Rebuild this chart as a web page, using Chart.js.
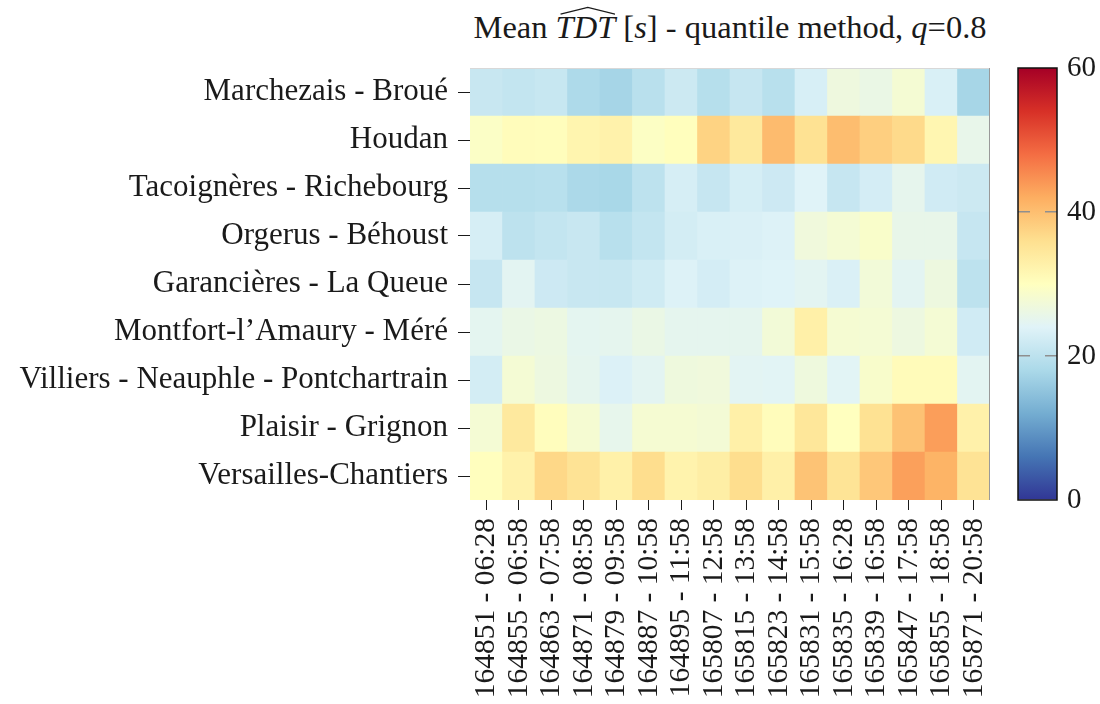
<!DOCTYPE html>
<html>
<head>
  <meta charset="utf-8">
  <title>Mean TDT - quantile method</title>
  <script src="https://cdn.jsdelivr.net/npm/chart.js"></script>
  <style>
    body {
      margin: 0;
      width: 1100px;
      height: 704px;
      position: relative;
      overflow: hidden;
      background: #fff;
      font-family: "Liberation Serif", Tinos, serif;
      color: #1a1a1a;
    }

    #title {
      position: absolute;
      left: 430px;
      width: 600px;
      top: 9px;
      text-align: center;
      font-size: 32.5px;
      white-space: nowrap;
    }

    /* wide hat over TDT */
    .hat {
      position: relative;
      display: inline-block;
    }

    .hat svg {
      position: absolute;
      left: 4px;
      top: -3px;
      width: calc(100% - 4px);
      height: 9px;
    }

    #main {
      position: absolute;
      left: 0;
      top: 0;
    }

    #scale {
      position: absolute;
      left: 1000px;
      top: 0;
    }
  </style>
</head>
<body>
  <div id="title">Mean <span class="hat"><i>TDT</i><svg viewBox="0 0 100 10" preserveAspectRatio="none"><polyline points="1,9 50,1.5 99,9" fill="none" stroke="#1a1a1a" stroke-width="1.3" vector-effect="non-scaling-stroke"/></svg></span> [<i>s</i>] - quantile method, <i>q</i>=0.8</div>
  <canvas id="main" width="1100" height="704"></canvas>
  <canvas id="scale" width="100" height="704"></canvas>

  <script>
    // rows top to bottom
    const stations = [
      'Marchezais - Broué',
      'Houdan',
      'Tacoignères - Richebourg',
      'Orgerus - Béhoust',
      'Garancières - La Queue',
      'Montfort-l\u2019Amaury - Méré',
      'Villiers - Neauphle - Pontchartrain',
      'Plaisir - Grignon',
      'Versailles-Chantiers'
    ];

    const trains = [
      '164851 - 06:28', '164855 - 06:58', '164863 - 07:58', '164871 - 08:58',
      '164879 - 09:58', '164887 - 10:58', '164895 - 11:58', '165807 - 12:58',
      '165815 - 13:58', '165823 - 14:58', '165831 - 15:58', '165835 - 16:28',
      '165839 - 16:58', '165847 - 17:58', '165855 - 18:58', '165871 - 20:58'
    ];

    // mean TDT in seconds, one array per station
    const marchezais  = [21.3, 20.7, 21.2, 18.3, 17.5, 19.6, 21.7, 19.3, 21.0, 19.5, 23.0, 26.7, 26.0, 27.9, 23.2, 17.6];
    const houdan      = [29.3, 30.5, 30.4, 32.0, 32.5, 29.5, 30.2, 37.6, 34.3, 40.4, 35.6, 40.2, 38.0, 36.7, 31.8, 25.5];
    const tacoigneres = [19.3, 19.3, 19.5, 18.1, 17.8, 20.0, 22.9, 21.0, 22.8, 21.8, 24.0, 21.0, 22.6, 25.2, 22.2, 21.7];
    const orgerus     = [22.9, 20.0, 20.7, 21.3, 19.5, 20.7, 22.5, 23.2, 23.3, 23.7, 27.0, 27.8, 28.8, 25.6, 25.6, 21.0];
    const garancieres = [21.0, 24.6, 21.8, 21.3, 21.2, 22.1, 23.7, 22.6, 23.7, 23.9, 24.6, 23.3, 27.4, 24.6, 26.6, 20.0];
    const montfort    = [24.8, 25.9, 26.3, 24.8, 25.0, 26.0, 25.0, 25.0, 25.0, 27.5, 32.9, 28.0, 27.8, 26.5, 27.8, 22.2];
    const villiers    = [22.5, 27.8, 26.5, 25.0, 23.5, 24.6, 26.8, 27.0, 24.5, 24.3, 26.8, 24.3, 28.7, 30.7, 30.7, 24.6];
    const plaisir     = [27.8, 34.2, 30.3, 28.0, 25.3, 28.0, 28.0, 27.7, 32.9, 30.5, 34.7, 30.0, 35.6, 39.6, 43.5, 32.7];
    const versailles  = [30.1, 32.5, 37.0, 35.4, 32.8, 36.2, 32.3, 33.3, 36.2, 32.9, 39.5, 35.2, 39.0, 43.3, 41.3, 35.4];

    const tdt = [marchezais, houdan, tacoigneres, orgerus, garancieres, montfort, villiers, plaisir, versailles];

    const scaleMin = 0;
    const scaleMax = 60;
    const scaleTicks = [0, 20, 40, 60];

    // RdYlBu reversed
    const palette = ['#313695', '#4575b4', '#74add1', '#abd9e9', '#e0f3f8', '#ffffbf',
                     '#fee090', '#fdae61', '#f46d43', '#d73027', '#a50026'];

    const FAMILY = '"Liberation Serif", Tinos, serif';
    const INK = '#1a1a1a';

    function hexRgb(h) {
      return [1, 3, 5].map(i => parseInt(h.substr(i, 2), 16));
    }

    function colour(v) {
      const t = Math.max(0, Math.min(1, (v - scaleMin) / (scaleMax - scaleMin))) * (palette.length - 1);
      const i = Math.min(palette.length - 2, Math.floor(t));
      const f = t - i;
      const a = hexRgb(palette[i]);
      const b = hexRgb(palette[i + 1]);
      const c = a.map((x, k) => Math.round(x + (b[k] - x) * f));
      return 'rgb(' + c.join(',') + ')';
    }

    // thin frame round the heatmap
    const heatFrame = {
      id: 'heatFrame',
      afterDatasetsDraw(chart) {
        const { ctx, chartArea: a } = chart;
        ctx.save();
        ctx.lineWidth = 1;
        ctx.strokeStyle = '#d8d8d8';
        ctx.beginPath();
        ctx.moveTo(a.left, a.top + 0.5);
        ctx.lineTo(a.right, a.top + 0.5);
        ctx.stroke();
        ctx.strokeStyle = '#999';
        ctx.beginPath();
        ctx.moveTo(a.right - 0.5, a.top);
        ctx.lineTo(a.right - 0.5, a.bottom);
        ctx.stroke();
        ctx.restore();
      }
    };

    const blackFrame = {
      id: 'blackFrame',
      afterDraw(chart) {
        const { ctx, chartArea: a } = chart;
        ctx.save();
        ctx.lineWidth = 1.5;
        ctx.strokeStyle = '#111';
        ctx.strokeRect(a.left, a.top, a.width, a.height);
        ctx.restore();
      }
    };

    // each station is one stacked layer, bottom row first
    const datasets = stations.map((name, r) => ({
      label: name,
      data: trains.map(() => 1),
      values: tdt[r],
      backgroundColor: tdt[r].map(colour),
      borderWidth: 0,
      barPercentage: 1,
      categoryPercentage: 1
    })).reverse();

    new Chart(document.getElementById('main'), {
      type: 'bar',
      data: { labels: trains, datasets: datasets },
      options: {
        responsive: false,
        animation: false,
        layout: { padding: { top: 68, right: 110, left: 0, bottom: 0 } },
        plugins: {
          legend: { display: false },
          tooltip: {
            callbacks: {
              title: items => items[0].dataset.label + ' / ' + items[0].label,
              label: item => 'TDT: ' + item.dataset.values[item.dataIndex] + ' s'
            }
          }
        },
        scales: {
          x: {
            stacked: true,
            border: { display: false },
            grid: { offset: false, drawOnChartArea: false, tickLength: 10, color: INK },
            ticks: { autoSkip: false, minRotation: 90, maxRotation: 90, padding: 8, color: INK, font: { family: FAMILY, size: 29.5 } },
            afterFit(s) { s.height = 204; }
          },
          y: {
            stacked: true,
            min: 0,
            max: stations.length,
            border: { display: false },
            grid: { drawOnChartArea: false, tickLength: 12, color: INK },
            afterBuildTicks(s) {
              s.ticks = stations.map((n, i) => ({ value: i + 0.5 }));
            },
            ticks: {
              padding: 10,
              color: INK,
              font: { family: FAMILY, size: 31 },
              callback: v => stations[stations.length - 1 - Math.floor(v)]
            },
            afterFit(s) { s.width = 470; }
          }
        }
      },
      plugins: [heatFrame]
    });

    // colour bar
    new Chart(document.getElementById('scale'), {
      type: 'bar',
      data: {
        labels: [''],
        datasets: [{
          data: [[scaleMin, scaleMax]],
          backgroundColor(c) {
            const a = c.chart.chartArea;
            if (!a) return null;
            const g = c.chart.ctx.createLinearGradient(0, a.bottom, 0, a.top);
            palette.forEach((p, i) => g.addColorStop(i / (palette.length - 1), p));
            return g;
          },
          borderWidth: 0,
          barPercentage: 1,
          categoryPercentage: 1
        }]
      },
      options: {
        responsive: false,
        animation: false,
        layout: { padding: { top: 68, left: 18, right: 0, bottom: 204 } },
        plugins: { legend: { display: false }, tooltip: { enabled: false } },
        scales: {
          x: { display: false },
          y: {
            position: 'right',
            min: scaleMin,
            max: scaleMax,
            afterBuildTicks(s) {
              s.ticks = scaleTicks.map(v => ({ value: v }));
            },
            grid: {
              z: 1,
              drawTicks: false,
              lineWidth: 1.5,
              color: c => (c.tick && c.tick.value > scaleMin && c.tick.value < scaleMax) ? '#8f8f8f' : 'rgba(0,0,0,0)'
            },
            border: { display: false, dash: [12, 15] },
            ticks: { padding: 10, color: INK, font: { family: FAMILY, size: 29 } },
            afterFit(s) { s.width = 43; }
          }
        }
      },
      plugins: [blackFrame]
    });
  </script>
</body>
</html>
